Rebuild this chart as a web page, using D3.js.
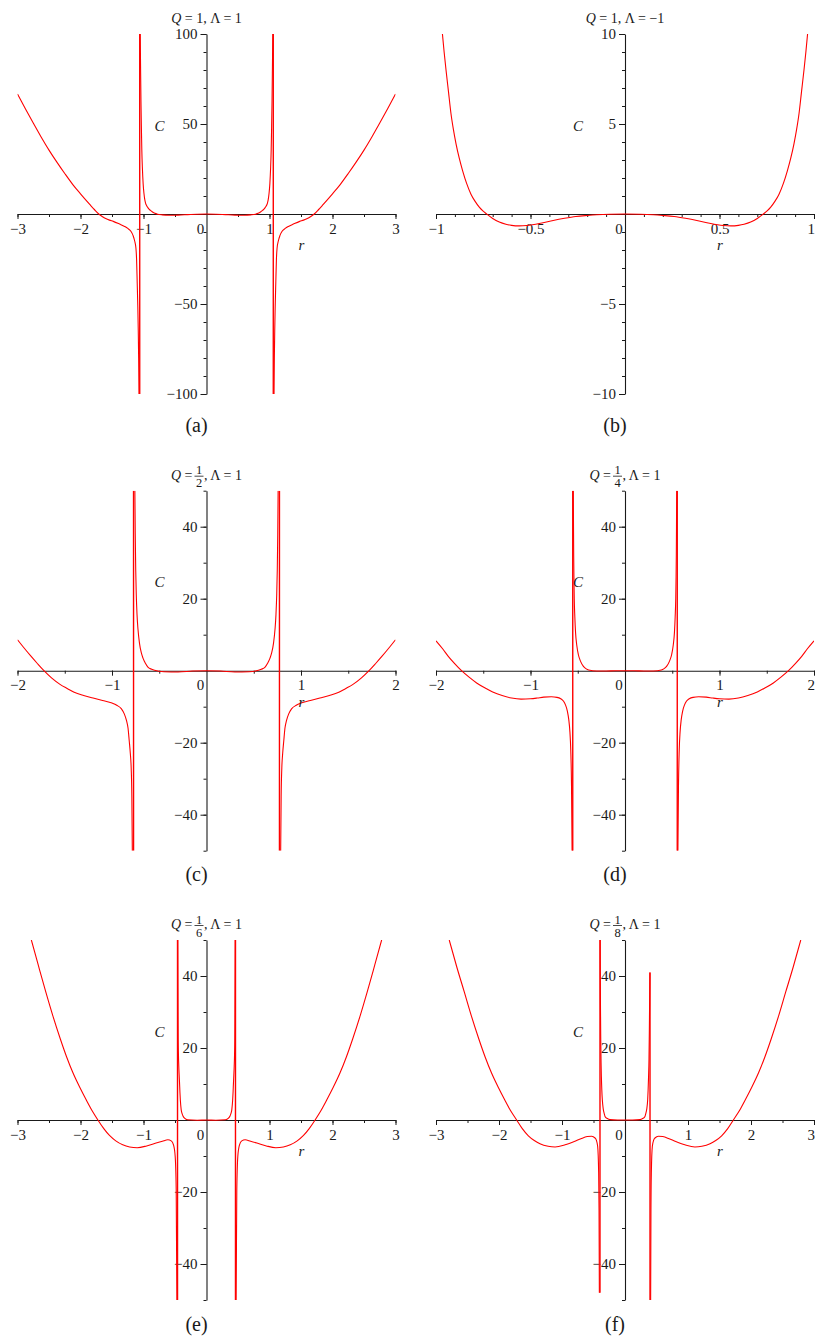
<!DOCTYPE html>
<html>
<head>
<meta charset="utf-8">
<script src="https://cdn.jsdelivr.net/npm/d3@7"></script>
<style>
body { margin: 0; background: #fff; }
svg { display: block; }
</style>
</head>
<body>
<script>
// ---- data: [r, C] samples, one array per branch ----

// (a) Q = 1, Lambda = 1
var a_left = [[-3.0,66.7],[-2.875,58.5],[-2.75,50.5],[-2.625,42.8],[-2.5,35.5],[-2.375,28.8],[-2.25,22.5],[-2.125,16.5],[-2.0,11.2],[-1.85,5.2],[-1.78,2.5],[-1.71,0],[-1.65,-1.5],[-1.6,-2.5],[-1.54,-3.4],[-1.48,-4.1],[-1.38,-5.6],[-1.3,-6.9],[-1.25,-8.0],[-1.2,-9.6],[-1.165,-12],[-1.14,-15],[-1.12,-19],[-1.11,-25],[-1.1,-38],[-1.09,-52],[-1.083,-65],[-1.077,-80],[-1.072,-100]];
var a_inner = [[-1.052,100],[-1.046,80],[-1.04,62],[-1.033,47],[-1.027,36],[-1.017,25],[-1.006,17],[-0.993,11.5],[-0.979,7.8],[-0.965,5.8],[-0.95,4.6],[-0.926,3.3],[-0.89,2.0],[-0.857,1.1],[-0.82,0.35],[-0.78,-0.1],[-0.7,-0.5],[-0.6,-0.7],[-0.45,-0.6],[-0.3,-0.35],[-0.15,-0.1],[0,0],[0.15,-0.1],[0.3,-0.35],[0.45,-0.6],[0.6,-0.7],[0.7,-0.5],[0.78,-0.1],[0.82,0.35],[0.857,1.1],[0.89,2.0],[0.926,3.3],[0.95,4.6],[0.965,5.8],[0.979,7.8],[0.993,11.5],[1.006,17],[1.017,25],[1.027,36],[1.033,47],[1.04,62],[1.046,80],[1.052,100]];
var a_right = [[1.072,-100],[1.077,-80],[1.083,-65],[1.09,-52],[1.1,-38],[1.11,-25],[1.12,-19],[1.14,-15],[1.165,-12],[1.2,-9.6],[1.25,-8.0],[1.3,-6.9],[1.38,-5.6],[1.48,-4.1],[1.54,-3.4],[1.6,-2.5],[1.65,-1.5],[1.71,0],[1.78,2.5],[1.85,5.2],[2.0,11.2],[2.125,16.5],[2.25,22.5],[2.375,28.8],[2.5,35.5],[2.625,42.8],[2.75,50.5],[2.875,58.5],[3.0,66.7]];
var a_poles = [[-1.06,-100,100],[1.06,-100,100]];

// (b) Q = 1, Lambda = -1
var b_curve = [[-0.966,10],[-0.957,9.0],[-0.947,8.0],[-0.934,6.8],[-0.921,5.6],[-0.908,4.7],[-0.894,3.9],[-0.877,3.1],[-0.859,2.4],[-0.838,1.7],[-0.815,1.1],[-0.793,0.7],[-0.771,0.38],[-0.752,0.17],[-0.732,0],[-0.7,-0.25],[-0.665,-0.45],[-0.63,-0.57],[-0.6,-0.63],[-0.56,-0.66],[-0.52,-0.64],[-0.49,-0.6],[-0.44,-0.5],[-0.38,-0.36],[-0.32,-0.24],[-0.26,-0.14],[-0.2,-0.08],[-0.15,-0.04],[-0.08,-0.01],[0,0],[0.08,-0.01],[0.15,-0.04],[0.2,-0.08],[0.26,-0.14],[0.32,-0.24],[0.38,-0.36],[0.44,-0.5],[0.49,-0.6],[0.52,-0.64],[0.56,-0.66],[0.6,-0.63],[0.63,-0.57],[0.665,-0.45],[0.7,-0.25],[0.732,0],[0.752,0.17],[0.771,0.38],[0.793,0.7],[0.815,1.1],[0.838,1.7],[0.859,2.4],[0.877,3.1],[0.894,3.9],[0.908,4.7],[0.921,5.6],[0.934,6.8],[0.947,8.0],[0.957,9.0],[0.966,10]];

// (c) Q = 1/2, Lambda = 1
var c_left = [[-2.0,8.6],[-1.93,6.3],[-1.86,4.1],[-1.79,2.0],[-1.72,0],[-1.64,-2.0],[-1.55,-3.8],[-1.47,-5.0],[-1.4,-6.0],[-1.3,-6.9],[-1.2,-7.6],[-1.1,-8.3],[-1.0,-9.0],[-0.95,-9.6],[-0.9,-10.6],[-0.87,-12],[-0.847,-13.8],[-0.83,-16],[-0.818,-19.4],[-0.806,-23],[-0.797,-27],[-0.79,-35],[-0.785,-50]];
var c_inner = [[-0.758,50],[-0.754,38],[-0.749,28],[-0.743,21],[-0.735,15.5],[-0.725,11.5],[-0.709,7.6],[-0.69,5.0],[-0.672,3.5],[-0.645,2.0],[-0.62,1.0],[-0.58,0.4],[-0.55,0.1],[-0.45,-0.3],[-0.3,-0.35],[-0.15,-0.1],[0,0],[0.15,-0.1],[0.3,-0.35],[0.45,-0.3],[0.55,0.1],[0.58,0.4],[0.62,1.0],[0.645,2.0],[0.672,3.5],[0.69,5.0],[0.709,7.6],[0.725,11.5],[0.735,15.5],[0.743,21],[0.749,28],[0.754,38],[0.758,50]];
var c_right = [[0.785,-50],[0.79,-35],[0.797,-27],[0.806,-23],[0.818,-19.4],[0.83,-16],[0.847,-13.8],[0.87,-12],[0.9,-10.6],[0.95,-9.6],[1.0,-9.0],[1.1,-8.3],[1.2,-7.6],[1.3,-6.9],[1.4,-6.0],[1.47,-5.0],[1.55,-3.8],[1.64,-2.0],[1.72,0],[1.79,2.0],[1.86,4.1],[1.93,6.3],[2.0,8.6]];
var c_poles = [[-0.772,-50,50],[0.772,-50,50]];

// (d) Q = 1/4, Lambda = 1
var d_left = [[-2.0,8.3],[-1.93,6.1],[-1.87,4.0],[-1.8,1.9],[-1.73,0],[-1.65,-1.8],[-1.57,-3.4],[-1.48,-4.8],[-1.4,-5.9],[-1.3,-6.9],[-1.2,-7.6],[-1.1,-7.9],[-1.0,-7.8],[-0.93,-7.6],[-0.86,-7.35],[-0.78,-7.25],[-0.72,-7.4],[-0.68,-7.8],[-0.65,-8.5],[-0.63,-9.5],[-0.61,-11.2],[-0.595,-13.6],[-0.583,-17],[-0.574,-22],[-0.566,-32],[-0.56,-50]];
var d_inner = [[-0.547,50],[-0.545,40],[-0.543,32],[-0.54,25],[-0.537,20],[-0.531,15],[-0.523,10.5],[-0.51,7],[-0.494,4.5],[-0.47,2.6],[-0.44,1.2],[-0.41,0.5],[-0.385,0.2],[-0.3,-0.1],[-0.15,-0.05],[0,0],[0.15,-0.05],[0.3,-0.1],[0.385,0.2],[0.41,0.5],[0.44,1.2],[0.47,2.6],[0.494,4.5],[0.51,7],[0.523,10.5],[0.531,15],[0.537,20],[0.54,25],[0.543,32],[0.545,40],[0.547,50]];
var d_right = [[0.56,-50],[0.566,-32],[0.574,-22],[0.583,-17],[0.595,-13.6],[0.61,-11.2],[0.63,-9.5],[0.65,-8.5],[0.68,-7.8],[0.72,-7.4],[0.78,-7.25],[0.86,-7.35],[0.93,-7.6],[1.0,-7.8],[1.1,-7.9],[1.2,-7.6],[1.3,-6.9],[1.4,-5.9],[1.48,-4.8],[1.57,-3.4],[1.65,-1.8],[1.73,0],[1.8,1.9],[1.87,4.0],[1.93,6.1],[2.0,8.3]];
var d_poles = [[-0.553,-50,50],[0.553,-50,50]];

// (e) Q = 1/6, Lambda = 1
var e_left = [[-2.78,50],[-2.67,43],[-2.55,35.5],[-2.44,29],[-2.32,22.5],[-2.22,17.5],[-2.12,13.1],[-2.01,9.0],[-1.91,5.6],[-1.82,2.7],[-1.724,0],[-1.63,-2.4],[-1.54,-4.3],[-1.44,-5.8],[-1.33,-6.9],[-1.22,-7.5],[-1.1,-7.7],[-0.95,-7.2],[-0.8,-6.4],[-0.7,-5.9],[-0.613,-5.5],[-0.56,-5.8],[-0.524,-6.9],[-0.497,-10.1],[-0.481,-19.4],[-0.47,-50]];
var e_inner = [[-0.455,50],[-0.453,40],[-0.451,30],[-0.449,22.3],[-0.445,18],[-0.44,15],[-0.434,12.5],[-0.428,10.3],[-0.422,7.8],[-0.415,5.5],[-0.402,2.9],[-0.39,1.9],[-0.375,1.2],[-0.349,0.5],[-0.3,0.05],[-0.15,-0.05],[0,0],[0.15,-0.05],[0.3,0.05],[0.349,0.5],[0.375,1.2],[0.39,1.9],[0.402,2.9],[0.415,5.5],[0.422,7.8],[0.428,10.3],[0.434,12.5],[0.44,15],[0.445,18],[0.449,22.3],[0.451,30],[0.453,40],[0.455,50]];
var e_right = [[0.47,-50],[0.481,-19.4],[0.497,-10.1],[0.524,-6.9],[0.56,-5.8],[0.613,-5.5],[0.7,-5.9],[0.8,-6.4],[0.95,-7.2],[1.1,-7.7],[1.22,-7.5],[1.33,-6.9],[1.44,-5.8],[1.54,-4.3],[1.63,-2.4],[1.724,0],[1.82,2.7],[1.91,5.6],[2.01,9.0],[2.12,13.1],[2.22,17.5],[2.32,22.5],[2.44,29],[2.55,35.5],[2.67,43],[2.78,50]];
var e_poles = [[-0.46,-50,50],[0.46,-50,50]];

// (f) Q = 1/8, Lambda = 1
var f_left = [[-2.79,50],[-2.67,42.5],[-2.55,35.5],[-2.44,29],[-2.32,22.5],[-2.22,17.5],[-2.12,13.1],[-2.01,9.0],[-1.91,5.6],[-1.82,2.7],[-1.72,0],[-1.63,-2.4],[-1.534,-4.4],[-1.44,-5.7],[-1.35,-6.6],[-1.22,-7.3],[-1.11,-7.5],[-0.95,-6.9],[-0.794,-5.9],[-0.7,-5.2],[-0.6,-4.6],[-0.53,-4.5],[-0.476,-5.0],[-0.455,-5.6],[-0.434,-7.3],[-0.418,-14.7],[-0.412,-25],[-0.407,-48]];
var f_inner = [[-0.394,50],[-0.392,40],[-0.39,33],[-0.385,22.3],[-0.38,16],[-0.375,12],[-0.368,8.3],[-0.36,5.6],[-0.345,3.0],[-0.33,1.8],[-0.317,1.0],[-0.28,0.4],[-0.238,0.1],[-0.12,-0.02],[0,0],[0.12,-0.02],[0.238,0.1],[0.28,0.4],[0.317,1.0],[0.33,1.8],[0.345,3.0],[0.36,5.6],[0.367,8.3],[0.374,12],[0.381,17],[0.386,24],[0.391,33],[0.395,41]];
var f_right = [[0.407,-50],[0.412,-25],[0.418,-14.7],[0.434,-7.3],[0.455,-5.6],[0.476,-5.0],[0.53,-4.5],[0.6,-4.6],[0.7,-5.2],[0.794,-5.9],[0.95,-6.9],[1.11,-7.5],[1.22,-7.3],[1.35,-6.6],[1.44,-5.7],[1.534,-4.4],[1.63,-2.4],[1.72,0],[1.82,2.7],[1.91,5.6],[2.01,9.0],[2.12,13.1],[2.22,17.5],[2.32,22.5],[2.44,29],[2.55,35.5],[2.67,42.5],[2.79,50]];
var f_poles = [[-0.397,-48,50],[0.397,-50,41]];

// ---- ticks and labels ----
var ticks_r3 = [-3,-2,-1,0,1,2,3];
var labels_r3 = ['\u22123','\u22122','\u22121','0','1','2','3'];
var ticks_r2 = [-2,-1,0,1,2];
var labels_r2 = ['\u22122','\u22121','0','1','2'];
var ticks_r1 = [-1,-0.5,0,0.5,1];
var labels_r1 = ['\u22121','\u22120.5','0','0.5','1'];
var ticks_c100 = [-100,-50,50,100];
var labels_c100 = ['\u2212100','\u221250','50','100'];
var ticks_c10 = [-10,-5,5,10];
var labels_c10 = ['\u221210','\u22125','5','10'];
var ticks_c50 = [-40,-20,20,40];
var labels_c50 = ['\u221240','\u221220','20','40'];

// titles: Q as numerator/denominator, Lambda
var qNum = [1, 1, 1, 1, 1, 1];
var qDen = [1, 1, 2, 4, 6, 8];
var lambdaVals = ['1', '\u22121', '1', '1', '1', '1'];
var panelNames = ['(a)', '(b)', '(c)', '(d)', '(e)', '(f)'];

// ---- layout ----
var W = 815, H = 1340;
var colX = [17.5, 436], rowTop = [34, 490.7, 940], labelY = [432, 881, 1331];
var plotW = 378, plotH = 360;
var serif = "'Liberation Serif', 'Times New Roman', serif";

var panels = [
	{col:0, row:0, xd:[-3,3], yd:[-100,100], xt:ticks_r3, xl:labels_r3, yt:ticks_c100, yl:labels_c100, xm:0.5, ym:10,
		branches:[a_left, a_inner, a_right], poles:a_poles},
	{col:1, row:0, xd:[-1,1], yd:[-10,10], xt:ticks_r1, xl:labels_r1, yt:ticks_c10, yl:labels_c10, xm:0.1, ym:1,
		branches:[b_curve], poles:[]},
	{col:0, row:1, xd:[-2,2], yd:[-50,50], xt:ticks_r2, xl:labels_r2, yt:ticks_c50, yl:labels_c50, xm:0.5, ym:10,
		branches:[c_left, c_inner, c_right], poles:c_poles},
	{col:1, row:1, xd:[-2,2], yd:[-50,50], xt:ticks_r2, xl:labels_r2, yt:ticks_c50, yl:labels_c50, xm:0.5, ym:10,
		branches:[d_left, d_inner, d_right], poles:d_poles},
	{col:0, row:2, xd:[-3,3], yd:[-50,50], xt:ticks_r3, xl:labels_r3, yt:ticks_c50, yl:labels_c50, xm:0.5, ym:10,
		branches:[e_left, e_inner, e_right], poles:e_poles},
	{col:1, row:2, xd:[-3,3], yd:[-50,50], xt:ticks_r3, xl:labels_r3, yt:ticks_c50, yl:labels_c50, xm:0.5, ym:10,
		branches:[f_left, f_inner, f_right], poles:f_poles}
];

var svg = d3.select('body').append('svg')
	.attr('width', W).attr('height', H)
	.attr('viewBox', '0 0 ' + W + ' ' + H);

function styleAxis(g) {
	g.attr('color', '#1a1a1a').attr('font-size', 15)
		.style('font-family', serif);
	g.selectAll('.domain').attr('stroke-width', 1.1);
	g.selectAll('.tick line').attr('stroke-width', 1);
}

panels.forEach(function(p, i) {
	var x0 = colX[p.col], top = rowTop[p.row];
	var x = d3.scaleLinear().domain(p.xd).range([x0, x0 + plotW]);
	var y = d3.scaleLinear().domain(p.yd).range([top + plotH, top]);
	var ax = x(0), ay = y(0);
	var g = svg.append('g').attr('id', 'panel' + i);

	// minor ticks
	var xMinor = d3.range(p.xd[0], p.xd[1] + p.xm / 2, p.xm).filter(function(v){ return Math.abs(v) > 1e-9; });
	var yMinor = d3.range(p.yd[0], p.yd[1] + p.ym / 2, p.ym).filter(function(v){ return Math.abs(v) > 1e-9; });
	g.append('g').attr('transform', 'translate(0,' + ay + ')')
		.call(d3.axisBottom(x).tickValues(xMinor).tickSize(3).tickFormat(''))
		.call(function(s){ s.select('.domain').remove(); })
		.call(styleAxis);
	g.append('g').attr('transform', 'translate(' + ax + ',0)')
		.call(d3.axisLeft(y).tickValues(yMinor).tickSize(3).tickFormat(''))
		.call(function(s){ s.select('.domain').remove(); })
		.call(styleAxis);

	// major x axis
	var xa = g.append('g').attr('transform', 'translate(0,' + ay + ')')
		.call(d3.axisBottom(x).tickValues(p.xt).tickSize(5).tickSizeOuter(0).tickPadding(4)
			.tickFormat(function(d, k){ return p.xl[k]; }))
		.call(styleAxis);
	xa.selectAll('.tick').filter(function(d){ return d === 0; }).select('text').attr('x', -6.5);
	xa.selectAll('.tick').filter(function(d){ return d === 0; }).select('line').remove();
	// keep the right-most label inside the page
	xa.selectAll('.tick').filter(function(d){ return x(d) > W - 6; }).select('text')
		.attr('text-anchor', 'end').attr('x', function(d){ return W - 0.5 - x(d); });

	// major y axis
	g.append('g').attr('transform', 'translate(' + ax + ',0)')
		.call(d3.axisLeft(y).tickValues(p.yt).tickSize(6).tickSizeOuter(0).tickPadding(3)
			.tickFormat(function(d, k){ return p.yl[k]; }))
		.call(styleAxis);

	// curves
	var clipId = 'clip' + i;
	g.append('clipPath').attr('id', clipId).append('rect')
		.attr('x', x0).attr('y', top).attr('width', plotW).attr('height', plotH);
	var line = d3.line().x(function(d){ return x(d[0]); }).y(function(d){ return y(d[1]); })
		.curve(d3.curveMonotoneX);
	var cg = g.append('g').attr('clip-path', 'url(#' + clipId + ')');
	cg.selectAll('path.branch').data(p.branches).enter().append('path')
		.attr('class', 'branch')
		.attr('d', line)
		.attr('fill', 'none').attr('stroke', '#ff0000').attr('stroke-width', 1.1);
	cg.selectAll('line.pole').data(p.poles).enter().append('line')
		.attr('class', 'pole')
		.attr('x1', function(d){ return x(d[0]); }).attr('x2', function(d){ return x(d[0]); })
		.attr('y1', function(d){ return y(d[1]); }).attr('y2', function(d){ return y(d[2]); })
		.attr('stroke', '#ff0000').attr('stroke-width', 1.4);

	// axis names
	g.append('text').text('C').attr('x', ax - 47).attr('y', top + 96.5)
		.attr('text-anchor', 'middle').style('font-family', serif).attr('font-style', 'italic')
		.attr('font-size', 15).attr('fill', '#1a1a1a');
	g.append('text').text('r').attr('x', ax + 95).attr('y', ay + 36)
		.attr('text-anchor', 'middle').style('font-family', serif).attr('font-style', 'italic')
		.attr('font-size', 15).attr('fill', '#1a1a1a');

	// title
	var tg = g.append('g').attr('transform', 'translate(' + ax + ',' + top + ')')
		.style('font-family', serif).attr('font-size', 14).attr('fill', '#1a1a1a');
	if (qDen[i] === 1) {
		var t = tg.append('text').attr('x', 0).attr('y', -11.5).attr('text-anchor', 'middle');
		t.append('tspan').attr('font-style', 'italic').text('Q');
		t.append('tspan').text(' = ' + qNum[i] + ', \u039B = ' + lambdaVals[i]);
	} else {
		var t1 = tg.append('text').attr('x', -14).attr('y', -11).attr('text-anchor', 'end');
		t1.append('tspan').attr('font-style', 'italic').text('Q');
		t1.append('tspan').text(' =');
		tg.append('text').attr('x', -7.5).attr('y', -16.5).attr('text-anchor', 'middle')
			.attr('font-size', 12.5).text(qNum[i]);
		tg.append('line').attr('x1', -12).attr('x2', -3).attr('y1', -14.5).attr('y2', -14.5)
			.attr('stroke', '#1a1a1a').attr('stroke-width', 0.8);
		tg.append('text').attr('x', -7.5).attr('y', -3.5).attr('text-anchor', 'middle')
			.attr('font-size', 12.5).text(qDen[i]);
		tg.append('text').attr('x', -2.5).attr('y', -11).attr('text-anchor', 'start')
			.text(', \u039B = ' + lambdaVals[i]);
	}

	// sub-figure label
	g.append('text').text(panelNames[i]).attr('x', ax - 10).attr('y', labelY[p.row])
		.attr('text-anchor', 'middle').style('font-family', serif).attr('font-size', 20)
		.attr('fill', '#1a1a1a');
});
</script>
</body>
</html>
